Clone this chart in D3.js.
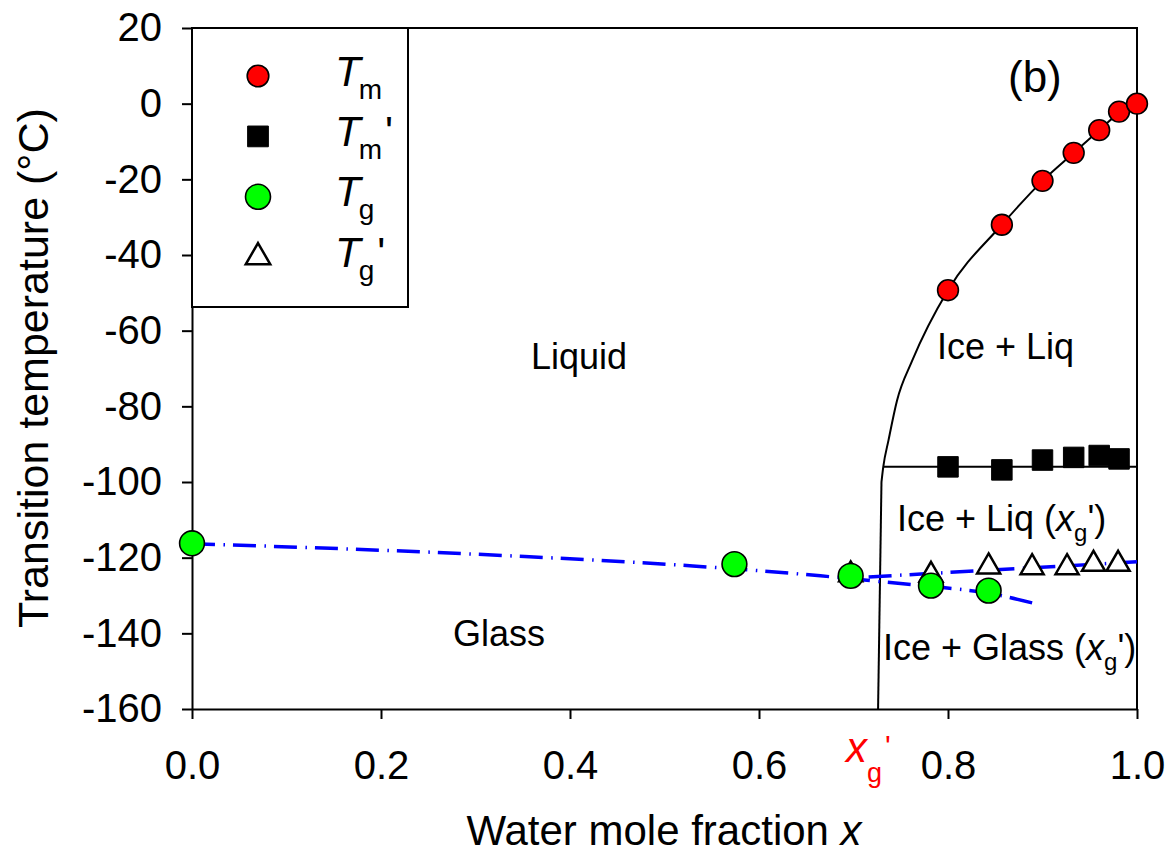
<!DOCTYPE html>
<html>
<head>
<meta charset="utf-8">
<script src="https://cdnjs.cloudflare.com/ajax/libs/d3/7.8.5/d3.min.js"></script>
<style>
  body { margin: 0; background: #fff; }
  text { font-family: Arial, "Liberation Sans", Helvetica, sans-serif; }
</style>
</head>
<body>
<div id="chart"></div>
<script>
// ---- data ----
// Tm (melting), red circles
var tmX = [0.80, 0.857, 0.90, 0.933, 0.96, 0.981, 1.0];
var tmY = [-49.3, -32, -20.4, -13, -7, -2.1, 0];
// Tm', black squares
var tmpX = [0.80, 0.857, 0.90, 0.933, 0.96, 0.981];
var tmpY = [-96, -96.8, -94.2, -93.5, -93, -93.9];
// Tg, green circles
var tgX = [0, 0.574, 0.697, 0.782, 0.843];
var tgY = [-116.2, -121.7, -124.8, -127.4, -128.7];
// Tg', open triangles
var tgpX = [0.697, 0.782, 0.843, 0.889, 0.926, 0.954, 0.980];
var tgpY = [-124.5, -124.6, -122.4, -122.6, -122.6, -121.7, -121.7];

// liquidus curve (black), vertical part then the fitted curve
var liqVertX = [0.726, 0.7296];
var liqVertY = [-160, -100];
var liqX = [0.7296, 0.7315, 0.737, 0.746, 0.762, 0.80, 0.857, 0.90, 0.933, 0.96, 0.981, 1.0];
var liqY = [-100, -96, -89, -78.5, -68, -49.3, -32, -20.4, -13, -7, -2.5, 0];
// Tm' horizontal line
var tmpLineX = [0.7315, 1.0];
var tmpLineY = [-96, -96];

// blue dash-dot fits for Tg
var fit1X = [0, 0.344, 0.53, 0.665, 0.727, 0.782, 0.843, 0.89];
var fit1Y = [-116.3, -119.6, -122.2, -124.8, -126.3, -127.6, -129.4, -132];
var fit2X = [0.716, 1.0];
var fit2Y = [-125.1, -121.1];

// ticks
var xTicks = [0, 0.2, 0.4, 0.6, 0.8, 1.0];
var yTicks = [-160, -140, -120, -100, -80, -60, -40, -20, 0, 20];

// legend
var legendSub = ['m', 'm', 'g', 'g'];
var legendPrime = [false, true, false, true];

const width = 1168;
const height = 853;
const font = 'Arial, "Liberation Sans", Helvetica, sans-serif';

var svg = d3.select('#chart')
  .append('svg')
  .attr('width', width)
  .attr('height', height)
  .style('background-color', '#fff');

var x = d3.scaleLinear().domain([0, 1]).range([192, 1137]);
var y = d3.scaleLinear().domain([-160, 20]).range([709, 28]);

function zip(a, b) {
  return a.map(function (v, i) { return [v, b[i]]; });
}

var line = d3.line()
  .x(function (d) { return x(d[0]); })
  .y(function (d) { return y(d[1]); });

// frame (top and right)
svg.append('path')
  .attr('d', 'M' + x(0) + ',' + y(20) + 'H' + x(1) + 'V' + y(-160))
  .attr('fill', 'none')
  .attr('stroke', '#000')
  .attr('stroke-width', 2);

// axes
var xAxis = d3.axisBottom(x)
  .tickValues(xTicks)
  .tickFormat(d3.format('.1f'))
  .tickSize(10)
  .tickSizeOuter(0)
  .tickPadding(32);
var yAxis = d3.axisLeft(y)
  .tickValues(yTicks)
  .tickFormat(function (d) { return String(d); })
  .tickSize(10)
  .tickSizeOuter(0)
  .tickPadding(20);

var gx = svg.append('g')
  .attr('transform', 'translate(0,' + y(-160) + ')')
  .call(xAxis);
var gy = svg.append('g')
  .attr('transform', 'translate(' + x(0) + ',0)')
  .call(yAxis);

[gx, gy].forEach(function (g) {
  g.attr('font-size', 40).attr('font-family', font);
  g.selectAll('path,line').attr('stroke', '#000').attr('stroke-width', 2);
  g.selectAll('text').attr('fill', '#000');
});

// axis titles
svg.append('text')
  .attr('x', 664)
  .attr('y', 845)
  .attr('text-anchor', 'middle')
  .attr('font-size', 42)
  .text('Water mole fraction ')
  .append('tspan')
  .attr('font-style', 'italic')
  .text('x');

svg.append('text')
  .attr('transform', 'translate(48,' + 368 + ') rotate(-90)')
  .attr('text-anchor', 'middle')
  .attr('font-size', 43)
  .text('Transition temperature (\u00B0C)');

// x_g' marker on the axis (red)
var xg = svg.append('text')
  .attr('x', 846)
  .attr('y', 762)
  .attr('font-size', 42)
  .attr('fill', '#ff0000');
xg.append('tspan').attr('font-style', 'italic').text('x');
xg.append('tspan').attr('font-size', 27).attr('dy', 20).text('g');
xg.append('tspan').attr('font-size', 30).attr('dx', 3).attr('dy', -26).text("'");

// liquidus and Tm' line
svg.append('path')
  .attr('d', line(zip(liqVertX, liqVertY)))
  .attr('fill', 'none').attr('stroke', '#000').attr('stroke-width', 2);
svg.append('path')
  .attr('d', line.curve(d3.curveMonotoneX)(zip(liqX, liqY)))
  .attr('fill', 'none').attr('stroke', '#000').attr('stroke-width', 2);
line.curve(d3.curveLinear);
svg.append('path')
  .attr('d', line(zip(tmpLineX, tmpLineY)))
  .attr('fill', 'none').attr('stroke', '#000').attr('stroke-width', 2);

// blue dash-dot fits
svg.append('path')
  .attr('d', line.curve(d3.curveMonotoneX)(zip(fit1X, fit1Y)))
  .attr('fill', 'none').attr('stroke', '#0000ff').attr('stroke-width', 3.5)
  .attr('stroke-dasharray', '23,8.5,1.5,8');
line.curve(d3.curveLinear);
svg.append('path')
  .attr('d', line(zip(fit2X, fit2Y)))
  .attr('fill', 'none').attr('stroke', '#0000ff').attr('stroke-width', 3.5)
  .attr('stroke-dasharray', '23,8.5,1.5,8');

// markers
function drawMarks(xs, ys, type, size, fill, sw) {
  svg.append('g').selectAll('path')
    .data(zip(xs, ys))
    .enter().append('path')
    .attr('d', d3.symbol().type(type).size(size)())
    .attr('transform', function (d) { return 'translate(' + x(d[0]) + ',' + y(d[1]) + ')'; })
    .attr('fill', fill)
    .attr('stroke', '#000')
    .attr('stroke-width', sw);
}
drawMarks(tgpX, tgpY, d3.symbolTriangle, 230, '#fff', 2.5);
drawMarks(tmpX, tmpY, d3.symbolSquare, 420, '#000', 1);
drawMarks(tmX, tmY, d3.symbolCircle, Math.PI * 10.4 * 10.4, '#ff0000', 1.6);
drawMarks(tgX, tgY, d3.symbolCircle, Math.PI * 12.4 * 12.4, '#00ff00', 1.6);

// region labels
function region(xp, yp, pre, withSub, post) {
  var t = svg.append('text')
    .attr('x', xp).attr('y', yp)
    .attr('font-size', 36)
    .text(pre);
  if (withSub) {
    t.append('tspan').attr('font-style', 'italic').text('x');
    t.append('tspan').attr('font-size', 24).attr('dy', 10).text('g');
    t.append('tspan').attr('dy', -10).text(post);
  }
}
region(531, 369, 'Liquid', false);
region(453, 646, 'Glass', false);
region(937, 359, 'Ice + Liq', false);
region(897, 531, 'Ice + Liq (', true, "')");
region(883, 660, 'Ice + Glass (', true, "')");

svg.append('text')
  .attr('x', 1008).attr('y', 92)
  .attr('font-size', 44)
  .text('(b)');

// legend
svg.append('rect')
  .attr('x', x(0)).attr('y', y(20))
  .attr('width', 216).attr('height', 279)
  .attr('fill', '#fff')
  .attr('stroke', '#000')
  .attr('stroke-width', 2);

var legendSym = [d3.symbolCircle, d3.symbolSquare, d3.symbolCircle, d3.symbolTriangle];
var legendSize = [Math.PI * 10.8 * 10.8, 430, Math.PI * 12.5 * 12.5, 260];
var legendFill = ['#ff0000', '#000', '#00ff00', '#fff'];
var legendSw = [1.6, 1, 1.6, 2.5];

legendSub.forEach(function (s, i) {
  var yy = 76 + i * 60.4;
  svg.append('path')
    .attr('d', d3.symbol().type(legendSym[i]).size(legendSize[i])())
    .attr('transform', 'translate(258,' + yy + ')')
    .attr('fill', legendFill[i])
    .attr('stroke', '#000')
    .attr('stroke-width', legendSw[i]);
  var t = svg.append('text')
    .attr('x', 335).attr('y', yy + 9.5)
    .attr('font-size', 42);
  t.append('tspan').attr('font-style', 'italic').text('T');
  t.append('tspan').attr('font-size', 28).attr('dx', -2).attr('dy', 13).text(s);
  if (legendPrime[i]) {
    t.append('tspan').attr('dx', 3).attr('dy', -13).text("'");
  }
});
</script>
</body>
</html>
